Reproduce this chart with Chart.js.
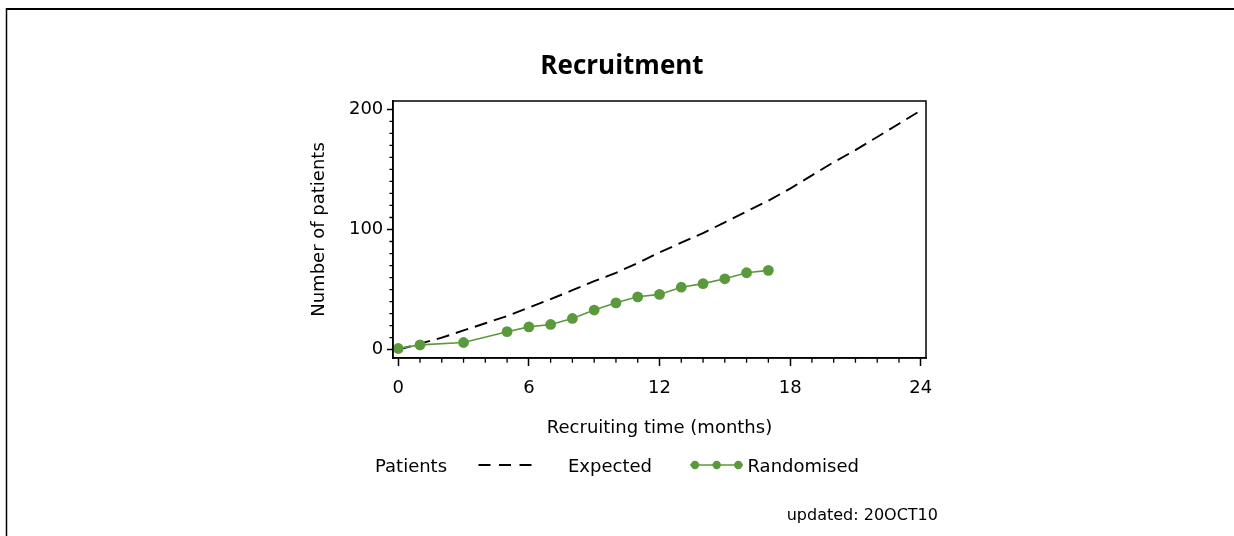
<!DOCTYPE html>
<html>
<head>
<meta charset="utf-8">
<script src="https://cdn.jsdelivr.net/npm/chart.js@4.4.1/dist/chart.umd.min.js"></script>
<style>
html,body{margin:0;padding:0;background:#fff;}
#wrap{position:relative;width:1234px;height:536px;}
</style>
</head>
<body>
<div id="wrap"><canvas id="c"></canvas></div>
<script>
// ---- data ----
const expectedMonths   = [0,1,2,3,4,5,6,7,8,9,10,11,12,13,14,15,16,17,18,19,20,21,22,23,24];
const expectedPatients = [0,5,10,16,22,28,35,42,49.5,57,64,72,81,89,97,106,115,124,134,145,156,166,177,188,199];
const randomisedMonths   = [0,1,3,5,6,7,8,9,10,11,12,13,14,15,16,17];
const randomisedPatients = [1,4,6,15,19,21,26,33,39,44,46,52,55,59,64,66];
const xMajorTicks = [0,6,12,18,24];
const yMajorTicks = [0,100,200];
const xMinorStep = 1;
const yMinorStep = 10;
const seriesNames = ['Expected','Randomised'];
const chartTitle = 'Recruitment';
const xAxisTitle = 'Recruiting time (months)';
const yAxisTitle = 'Number of patients';
const legendTitle = 'Patients';
const footnote = 'updated: 20OCT10';

const GREEN = '#5a9a3c';
const FONT = "'DejaVu Sans'";

Chart.defaults.font.family = FONT;
Chart.defaults.font.size = 18;
Chart.defaults.color = '#000';

const decor = {
  id: 'decor',
  afterDraw(chart) {
    const ctx = chart.ctx;
    const ca = chart.chartArea;
    const xs = chart.scales.x, ys = chart.scales.y;
    ctx.save();
    // outer frame
    ctx.strokeStyle = '#000';
    ctx.lineWidth = 2;
    ctx.beginPath(); ctx.moveTo(6, 9); ctx.lineTo(1234, 9); ctx.stroke();
    ctx.lineWidth = 1.5;
    ctx.beginPath(); ctx.moveTo(6.5, 8); ctx.lineTo(6.5, 536); ctx.stroke();
    // plot frame
    ctx.lineWidth = 1.5;
    ctx.strokeRect(ca.left, ca.top, ca.right - ca.left, ca.bottom - ca.top);
    // minor ticks
    ctx.lineWidth = 1.3;
    ctx.beginPath();
    for (let v = Math.ceil(xs.min); v <= xs.max; v += xMinorStep) {
      if (xMajorTicks.includes(v)) continue;
      const px = xs.getPixelForValue(v);
      ctx.moveTo(px, ca.bottom); ctx.lineTo(px, ca.bottom + 4.7);
    }
    for (let v = 0; v <= ys.max; v += yMinorStep) {
      if (yMajorTicks.includes(v)) continue;
      const py = ys.getPixelForValue(v);
      ctx.moveTo(ca.left, py); ctx.lineTo(ca.left - 3.5, py);
    }
    ctx.stroke();
    // title
    ctx.fillStyle = '#000';
    ctx.font = "bold 26px 'Open Sans'";
    ctx.textAlign = 'center';
    ctx.textBaseline = 'alphabetic';
    ctx.fillText(chartTitle, 622, 74.3);
    // legend
    const dsE = chart.data.datasets[1], dsR = chart.data.datasets[0];
    ctx.font = "18px " + FONT;
    ctx.textAlign = 'left';
    ctx.textBaseline = 'middle';
    ctx.fillText(legendTitle, 375, 467);
    ctx.strokeStyle = dsE.borderColor;
    ctx.lineWidth = dsE.borderWidth;
    ctx.setLineDash([12, 8.5]);
    ctx.beginPath(); ctx.moveTo(478.5, 465); ctx.lineTo(533, 465); ctx.stroke();
    ctx.setLineDash([]);
    ctx.fillText(seriesNames[0], 568, 467);
    ctx.strokeStyle = dsR.borderColor;
    ctx.lineWidth = dsR.borderWidth;
    ctx.beginPath(); ctx.moveTo(690, 465); ctx.lineTo(743, 465); ctx.stroke();
    ctx.fillStyle = dsR.pointBackgroundColor;
    [695, 716.7, 738.3].forEach(x => { ctx.beginPath(); ctx.arc(x, 465, 4.2, 0, Math.PI*2); ctx.fill(); });
    ctx.fillStyle = '#000';
    ctx.fillText(seriesNames[1], 747.5, 467);
    // footnote
    ctx.font = "16px " + FONT;
    ctx.fillText(footnote, 786.7, 516);
    ctx.restore();
  }
};

new Chart(document.getElementById('c'), {
  type: 'scatter',
  data: {
    datasets: [
      {
        label: seriesNames[1],
        data: randomisedMonths.map((m, i) => ({x: m, y: randomisedPatients[i]})),
        showLine: true,
        borderColor: GREEN,
        backgroundColor: GREEN,
        pointBackgroundColor: GREEN,
        pointBorderColor: GREEN,
        pointRadius: 5.4,
        pointBorderWidth: 0,
        borderWidth: 1.6,
        order: 0
      },
      {
        label: seriesNames[0],
        data: expectedMonths.map((m, i) => ({x: m, y: expectedPatients[i]})),
        showLine: true,
        borderColor: '#000',
        borderWidth: 1.9,
        borderDash: [13, 7],
        pointRadius: 0,
        order: 1
      }
    ]
  },
  options: {
    responsive: true,
    maintainAspectRatio: false,
    animation: false,
    events: [],
    layout: { padding: { left: 308.2, right: 308, top: 101, bottom: 97.2 } },
    plugins: { legend: { display: false }, title: { display: false }, tooltip: { enabled: false } },
    scales: {
      x: {
        type: 'linear',
        position: 'bottom',
        min: -0.24,
        max: 24.24,
        afterBuildTicks: s => { s.ticks = xMajorTicks.map(v => ({value: v})); },
        afterFit: s => { s.height = 80.8; },
        ticks: { padding: 11.5, autoSkip: false, maxRotation: 0, color: '#000', font: {size: 18} },
        grid: { display: true, drawOnChartArea: false, drawTicks: true, tickLength: 8, tickColor: '#000', tickWidth: 1.5 },
        border: { display: true, color: '#000', width: 1.5 },
        title: { display: true, text: xAxisTitle, padding: 0, color: '#000', font: {size: 18} }
      },
      y: {
        type: 'linear',
        position: 'left',
        min: -6.9,
        max: 206.9,
        afterBuildTicks: s => { s.ticks = yMajorTicks.map(v => ({value: v})); },
        afterFit: s => { s.width = 84.8; },
        ticks: { padding: 3.7, autoSkip: false, color: '#000', font: {size: 18} },
        grid: { display: true, drawOnChartArea: false, drawTicks: true, tickLength: 6, tickColor: '#000', tickWidth: 1.5 },
        border: { display: true, color: '#000', width: 1.5 },
        title: { display: true, text: yAxisTitle, padding: 0, color: '#000', font: {size: 18} }
      }
    }
  },
  plugins: [decor]
});
</script>
</body>
</html>
